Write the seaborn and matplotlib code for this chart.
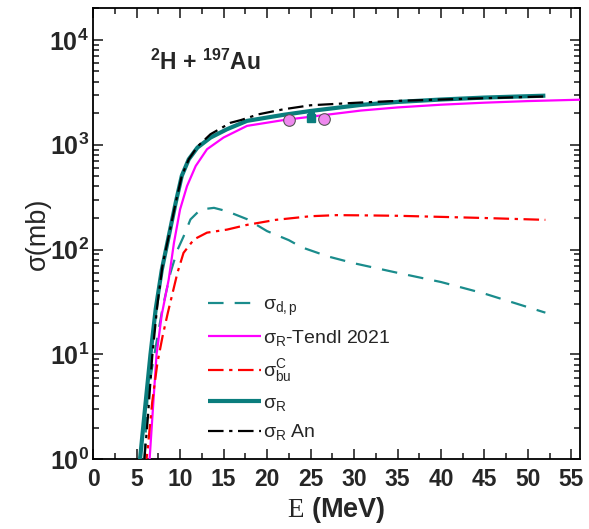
import numpy as np
import pandas as pd
import matplotlib
matplotlib.use("Agg")
import matplotlib.pyplot as plt
import seaborn as sns
from matplotlib.ticker import FixedLocator, LogLocator, NullFormatter, FuncFormatter, MultipleLocator

# ---------------- data ----------------
E_R = [5.4, 6.0, 6.6, 7.2, 7.9, 8.7, 9.5, 10.2, 11.0, 12.0, 13.5, 15.4, 17.7, 21.9, 25.0, 30.8, 35.0, 40.0, 45.0, 52.0]
S_R = [1.0, 3.2, 10, 27, 64, 134, 280, 505, 726, 940, 1170, 1407, 1690, 1930, 2100, 2400, 2560, 2700, 2820, 2940]

E_T = [6.5, 6.9, 7.3, 7.9, 8.7, 9.3, 10.0, 10.8, 11.8, 13.1, 15.0, 17.7, 21.9, 25.0, 30.8, 35.0, 40.0, 45.0, 50.0, 56.0]
S_T = [1.0, 3.2, 10, 24, 52, 116, 241, 403, 627, 906, 1172, 1514, 1720, 1850, 2120, 2270, 2410, 2520, 2610, 2690]

E_AN = [5.9, 6.3, 6.8, 7.4, 8.0, 8.7, 9.5, 10.2, 11.0, 12.0, 13.5, 15.8, 17.0, 19.0, 21.9, 25.0, 30.8, 35.0, 40.0, 45.0, 52.0]
S_AN = [1.0, 2.5, 9.5, 30, 72, 134, 280, 505, 726, 960, 1260, 1620, 1720, 1950, 2180, 2380, 2530, 2620, 2700, 2780, 2890]

E_DP = [5.9, 6.25, 6.8, 7.4, 8.0, 8.9, 9.7, 10.4, 11.2, 12.35, 13.9, 15.4, 17.7, 20.0, 22.5, 24.0, 27.0, 30.0, 35.0, 40.0, 45.0, 52.0]
S_DP = [1.0, 3.7, 7.6, 14.6, 28, 60, 99, 133, 194, 241, 250, 232, 195, 150, 123, 105, 86, 74, 60, 49, 38, 25]

E_BU = [6.0, 6.3, 6.8, 7.4, 8.0, 8.6, 9.7, 10.4, 11.6, 13.1, 15.4, 17.7, 21.0, 25.0, 28.0, 31.0, 35.0, 40.0, 45.0, 52.0]
S_BU = [0.8, 1.3, 3.5, 8.3, 15, 25, 60, 93, 125, 145, 155, 172, 192, 208, 213, 212, 210, 205, 200, 192]

E_EXP_C = [22.5, 26.6]
S_EXP_C = [1730, 1760]
E_EXP_S = [25.1]
S_EXP_S = [1800]
S_EXP_S_LO = [60]
S_EXP_S_HI = [330]

x_ticks = [0, 5, 10, 15, 20, 25, 30, 35, 40, 45, 50, 55]
y_ticks = [1, 10, 100, 1000, 10000]

# ---------------- style ----------------
sns.set_style("ticks")
plt.rcParams["font.family"] = ["Liberation Sans", "DejaVu Sans"]
plt.rcParams["mathtext.fontset"] = "custom"
plt.rcParams["mathtext.rm"] = "Liberation Serif"
plt.rcParams["mathtext.sf"] = "Liberation Sans"
plt.rcParams["mathtext.it"] = "Liberation Sans"
plt.rcParams["mathtext.bf"] = "Liberation Sans:bold"

fig = plt.figure(figsize=(5.89, 5.29), dpi=100)
ax = fig.add_axes([0.158, 0.132, 0.827, 0.853])

TEAL = "#0a7d7d"
TEAL_D = "#1a8c8c"

def curve(E, S, color, lw, dashes, label, z):
    df = pd.DataFrame({"E": E, "S": S})
    sns.lineplot(data=df, x="E", y="S", ax=ax, color=color, lw=lw, label=label,
                 estimator=None, sort=False, zorder=z)
    ln = ax.lines[-1]
    if dashes is not None:
        ln.set_dashes(dashes)
    ln.set_solid_capstyle("butt")
    ln.set_dash_capstyle("butt")
    ln.set_solid_joinstyle("round")
    return ln

curve(E_DP, S_DP, TEAL_D, 1.6, (7, 5), r"$\sigma_{\mathsf{d,p}}$", 3)
curve(E_T, S_T, "#ff00ff", 1.6, None, r"$\sigma_{\mathsf{R}}$-Tendl 2021", 3)
curve(E_BU, S_BU, "#ff0000", 1.6, (7, 2.5, 1.5, 2.5), r"$\sigma^{\mathsf{C}}_{\mathsf{bu}}$", 3)
curve(E_R, S_R, TEAL, 3.0, None, r"$\sigma_{\mathsf{R}}$", 4)
curve(E_AN, S_AN, "black", 1.6, (7, 2.5, 1.5, 2.5), r"$\sigma_{\mathsf{R}}$ An", 5)

# experimental points
ax.errorbar(E_EXP_S, S_EXP_S, yerr=[S_EXP_S_LO, S_EXP_S_HI], fmt="s", color=TEAL,
            ms=6, elinewidth=5, capsize=0, zorder=6)
sns.scatterplot(x=E_EXP_C, y=S_EXP_C, ax=ax, s=70, color="#ee88ee",
                edgecolor="#555555", linewidth=0.8, zorder=7, legend=False)

ax.set_yscale("log")
ax.set_xlim(0, 56)
ax.set_ylim(1, 2.02e4)

ax.xaxis.set_major_locator(FixedLocator(x_ticks))
ax.xaxis.set_minor_locator(MultipleLocator(2.5))
ax.yaxis.set_major_locator(FixedLocator(y_ticks))
ax.yaxis.set_minor_locator(LogLocator(base=10, subs=np.arange(2, 10)))
ax.yaxis.set_minor_formatter(NullFormatter())
ax.yaxis.set_major_formatter(FuncFormatter(lambda v, p: r"$\mathbf{10^{%d}}$" % int(round(np.log10(v)))))

ax.tick_params(which="both", direction="in", top=True, right=True, width=1.2)
ax.tick_params(which="major", length=7)
ax.tick_params(which="minor", length=4)
ax.tick_params(axis="x", which="major", labelsize=16.5, pad=6)
ax.tick_params(axis="y", which="major", labelsize=18, pad=3)
for lab in ax.get_xticklabels():
    lab.set_fontweight("bold")

for sp in ax.spines.values():
    sp.set_linewidth(1.3)
    sp.set_color("black")

ax.set_xlabel(r"$\mathrm{E}$ (MeV)", fontsize=19.5, fontweight="bold", labelpad=3)
ax.set_ylabel("σ(mb)", fontsize=19.5, labelpad=-1)

ax.text(0.117, 0.88, r"$^{\mathbf{2}}$H + $^{\mathbf{197}}$Au", transform=ax.transAxes,
        fontsize=16.5, fontweight="bold", va="center", ha="left")

leg = ax.legend(loc="lower left", bbox_to_anchor=(0.22, 0.02), frameon=False,
                fontsize=14, handlelength=2.7, labelspacing=0.5, handletextpad=0.15,
                borderaxespad=0)

fig.savefig("out.png", dpi=100)
